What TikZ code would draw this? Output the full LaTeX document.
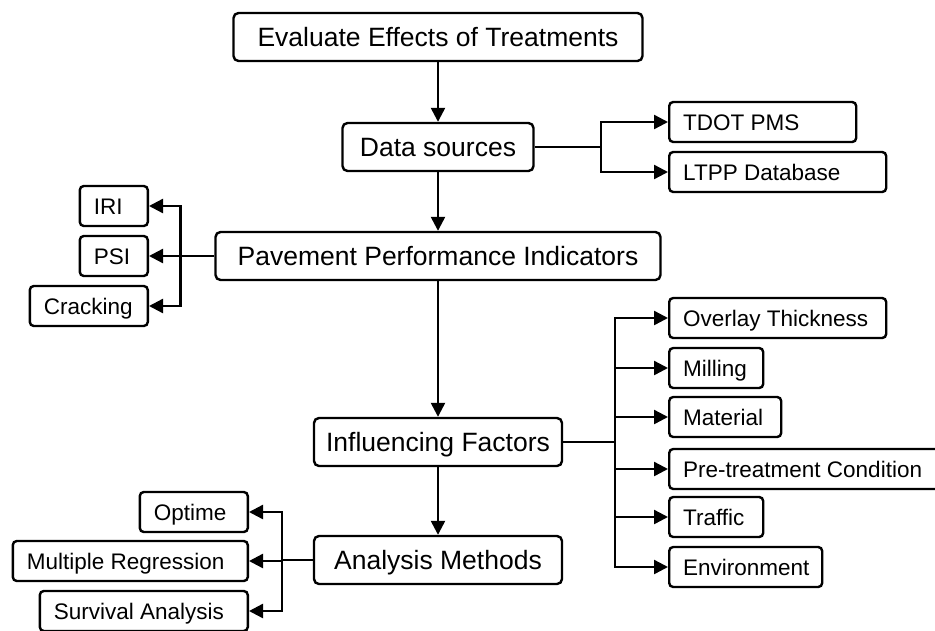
\documentclass[tikz,border=0pt]{standalone}
\usepackage{fontspec}
\setmainfont{Liberation Sans}
\usepackage{tikz}
\usetikzlibrary{arrows.meta,positioning}

\newcommand{\mainsize}{\fontsize{26.5pt}{31pt}\selectfont}
\newcommand{\subsize}{\fontsize{22.5pt}{26pt}\selectfont}

\begin{document}
\begin{tikzpicture}[x=1pt,y=-1pt]
	\useasboundingbox (0,0) rectangle (935,630);
	\begin{scope}[every node/.style={rectangle,draw,line width=2.4pt,rounded corners=5pt,minimum height=48pt,text height=19pt,text depth=0pt,font=\mainsize}]
		\node[minimum width=409pt] (eval) at (438,37) {Evaluate Effects of Treatments};
		\node[minimum width=191pt,below =59.6pt of eval] (ds) {Data sources};
		\node[minimum width=445pt,below =58.6pt of ds] (ppi) {Pavement Performance Indicators};
		\node[minimum width=248pt,below =135.6pt of ppi] (inf) {Influencing Factors};
		\node[minimum width=248pt,below =67.6pt of inf] (am) {Analysis Methods};
	\end{scope}
	
	\begin{scope}[every node/.style={rectangle,draw,line width=2.4pt,rounded corners=4pt,minimum height=40pt,inner xsep=14pt,text height=16pt,text depth=0pt,align=flush left,font=\subsize}]
		% data sources
		\node[anchor=west,text width=159pt] (tdot) at (668,122) {TDOT PMS};
		\node[anchor=west,text width=189pt] (ltpp) at (668,172) {LTPP Database};
		% indicators
		\node[anchor=east,text width=40pt] (iri) at (149,206) {IRI};
		\node[anchor=east,text width=40pt] (psi) at (149,256) {PSI};
		\node[anchor=east,text width=90pt] (crk) at (149,306) {Cracking};
		% factors
		\node[anchor=west,text width=189pt] (ovl) at (668,318) {Overlay Thickness};
		\node[anchor=west,text width=66pt] (mill) at (668,368) {Milling};
		\node[anchor=west,text width=84pt] (mat) at (668,417) {Material};
		\node[anchor=west,text width=262pt] (pre) at (668,469) {Pre-treatment Condition};
		\node[anchor=west,text width=66pt] (trf) at (668,517) {Traffic};
		\node[anchor=west,text width=125pt] (env) at (668,567) {Environment};
		% methods
		\node[anchor=east,text width=80pt] (opt) at (249,512) {Optime};
		\node[anchor=east,text width=207pt] (mreg) at (249,561) {Multiple Regression};
		\node[anchor=east,text width=180pt] (surv) at (249,611) {Survival Analysis};
	\end{scope}
	
	\begin{scope}[line width=2.4pt]
	\draw[-{Triangle[length=14pt,width=14pt]}] (eval) -- (ds);
	\draw[-{Triangle[length=14pt,width=14pt]}] (ds) -- (ppi);
	\draw[-{Triangle[length=14pt,width=14pt]}] (ppi) -- (inf);
	\draw[-{Triangle[length=14pt,width=14pt]}] (inf) -- (am);
	
	\draw (ds.east) -- ++(66,0) coordinate (dsj);
	\draw[-{Triangle[length=14pt,width=14pt]}] (dsj) |- (tdot.west);
	\draw[-{Triangle[length=14pt,width=14pt]}] (dsj) |- (ltpp.west);
	
	\draw (ppi.west) -- ++(-34,0) coordinate (ppij);
	\draw[-{Triangle[length=14pt,width=14pt]}] (ppij) |- (iri.east);
	\draw[-{Triangle[length=14pt,width=14pt]}] (ppij) |- (psi.east);
	\draw[-{Triangle[length=14pt,width=14pt]}] (ppij) |- (crk.east);
	
	\draw (inf.east) -- ++(52,0) coordinate (infj);
	\draw[-{Triangle[length=14pt,width=14pt]}] (infj) |- (ovl.west);
	\draw[-{Triangle[length=14pt,width=14pt]}] (infj) |- (mill.west);
	\draw[-{Triangle[length=14pt,width=14pt]}] (infj) |- (mat.west);
	\draw[-{Triangle[length=14pt,width=14pt]}] (infj) |- (pre.west);
	\draw[-{Triangle[length=14pt,width=14pt]}] (infj) |- (trf.west);
	\draw[-{Triangle[length=14pt,width=14pt]}] (infj) |- (env.west);
	
	\draw (am.west) -- ++(-31,0) coordinate (amj);
	\draw[-{Triangle[length=14pt,width=14pt]}] (amj) |- (opt.east);
	\draw[-{Triangle[length=14pt,width=14pt]}] (amj) |- (mreg.east);
	\draw[-{Triangle[length=14pt,width=14pt]}] (amj) |- (surv.east);
	\end{scope}
\end{tikzpicture}
\end{document}
